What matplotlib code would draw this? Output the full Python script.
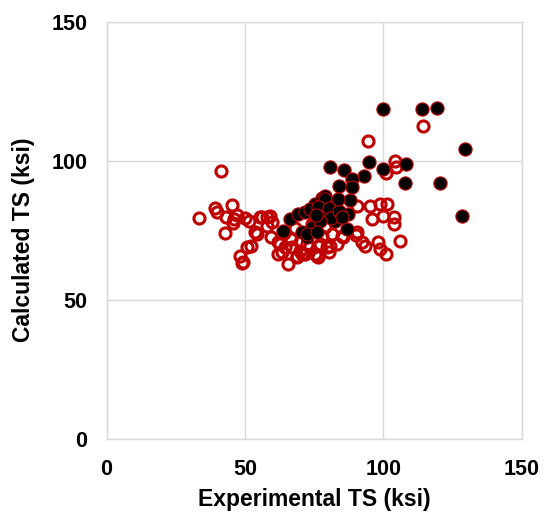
import numpy as np
import matplotlib.pyplot as plt

plt.rcParams['font.family'] = ['Liberation Sans', 'DejaVu Sans']

# measured vs. predicted tensile strength, two sets of data
exp_open = [41.4, 33.5, 39.2, 39.8, 45.2, 43.2, 45.8, 42.9, 46.1, 50.1,
            50.7, 48.2, 48.9, 54.3, 55.5, 57.9, 59.1, 59.5, 62.7, 62.1,
            65.7, 64.5, 68.7, 69.9, 74.7, 76.0, 51.5, 56.1, 53.7, 59.7,
            49.4, 62.1, 63.3, 66.9, 68.7, 70.5, 72.4, 75.4, 76.5, 77.8,
            79.6, 74.2, 94.6, 114.5, 104.3, 104.6, 101.0, 90.4, 95.2, 98.8,
            101.5, 95.8, 99.8, 103.7, 104.0, 106.1, 92.2, 93.4, 98.2, 98.8,
            101.0, 81.4, 85.6, 90.4, 83.2, 80.2, 71.7, 77.2, 79.0, 74.7,
            85.0, 80.6, 90.0, 66.5, 68.0, 70.0, 64.0, 58.0, 47.0, 52.0]
calc_open = [96.3, 79.4, 83.0, 81.6, 84.2, 80.0, 77.6, 74.0, 79.2, 79.4,
             69.2, 66.0, 63.3, 73.8, 79.8, 79.8, 80.4, 72.8, 70.2, 66.6,
             63.0, 69.2, 66.0, 67.8, 77.4, 66.0, 78.5, 79.8, 74.4, 78.0,
             63.6, 70.8, 67.2, 69.0, 65.4, 66.6, 70.2, 66.6, 65.4, 73.2,
             69.0, 77.4, 107.3, 112.7, 100.1, 98.0, 95.6, 84.0, 84.0, 84.6,
             84.6, 79.2, 80.4, 79.8, 77.4, 71.4, 70.8, 69.6, 70.8, 68.4,
             66.6, 73.8, 72.6, 74.4, 70.2, 67.2, 66.6, 70.2, 76.2, 72.6,
             73.0, 69.6, 73.5, 72.0, 76.0, 71.0, 74.0, 76.5, 80.5, 69.5]

exp_filled = [63.9, 66.3, 69.3, 71.7, 70.5, 72.4, 74.2, 75.4, 77.8, 79.0,
              73.5, 72.4, 79.0, 82.0, 88.0, 87.4, 86.8, 79.0, 82.6, 80.8,
              85.9, 94.9, 100.0, 108.2, 93.1, 88.6, 84.1, 88.6, 107.9, 120.5,
              128.4, 100.0, 114.1, 119.3, 129.6, 76.5, 78.0, 80.5, 81.0, 84.0,
              77.0, 75.5, 83.5, 85.0, 76.0]
calc_filled = [75.0, 79.2, 81.0, 81.6, 74.4, 72.6, 76.2, 84.6, 86.9, 87.5,
               82.8, 73.8, 86.3, 84.0, 86.0, 81.0, 75.6, 81.6, 78.6, 98.0,
               96.8, 99.7, 97.1, 99.1, 94.7, 93.5, 91.1, 90.5, 92.0, 92.0,
               80.4, 118.7, 118.7, 119.0, 104.3, 83.5, 80.0, 83.0, 79.5, 82.0,
               78.5, 80.5, 86.5, 80.0, 74.5]

ticks = [0, 50, 100, 150]
grid_color = '#d9d9d9'

fig = plt.figure(figsize=(5.44, 5.13), dpi=100)
ax = fig.add_axes([0.196, 0.144, 0.763, 0.813])

ax.plot(exp_open, calc_open, linestyle='none', marker='o', ms=8,
        mfc='none', mec='#c00000', mew=2.2, zorder=3)
ax.plot(exp_filled, calc_filled, linestyle='none', marker='o', ms=9.5,
        mfc='black', mec='#c00000', mew=0.8, zorder=4)

ax.set_xlim(0, 150)
ax.set_ylim(0, 150)
ax.set_xticks(ticks)
ax.set_yticks(ticks)
ax.grid(True, color=grid_color, linewidth=1.0, zorder=0)
ax.set_axisbelow(True)
for side in ax.spines.values():
    side.set_color(grid_color)
    side.set_linewidth(1.0)

ax.tick_params(length=0, labelsize=15.5, pad=14)
for lbl in ax.get_xticklabels() + ax.get_yticklabels():
    lbl.set_fontweight('bold')

ax.set_xlabel('Experimental TS (ksi)', fontsize=16.5, fontweight='bold')
ax.set_ylabel('Calculated TS (ksi)', fontsize=16.5, fontweight='bold')
ax.xaxis.set_label_coords(0.5, -0.118)
ax.yaxis.set_label_coords(-0.172, 0.477)

fig.savefig('out.png', dpi=100)
